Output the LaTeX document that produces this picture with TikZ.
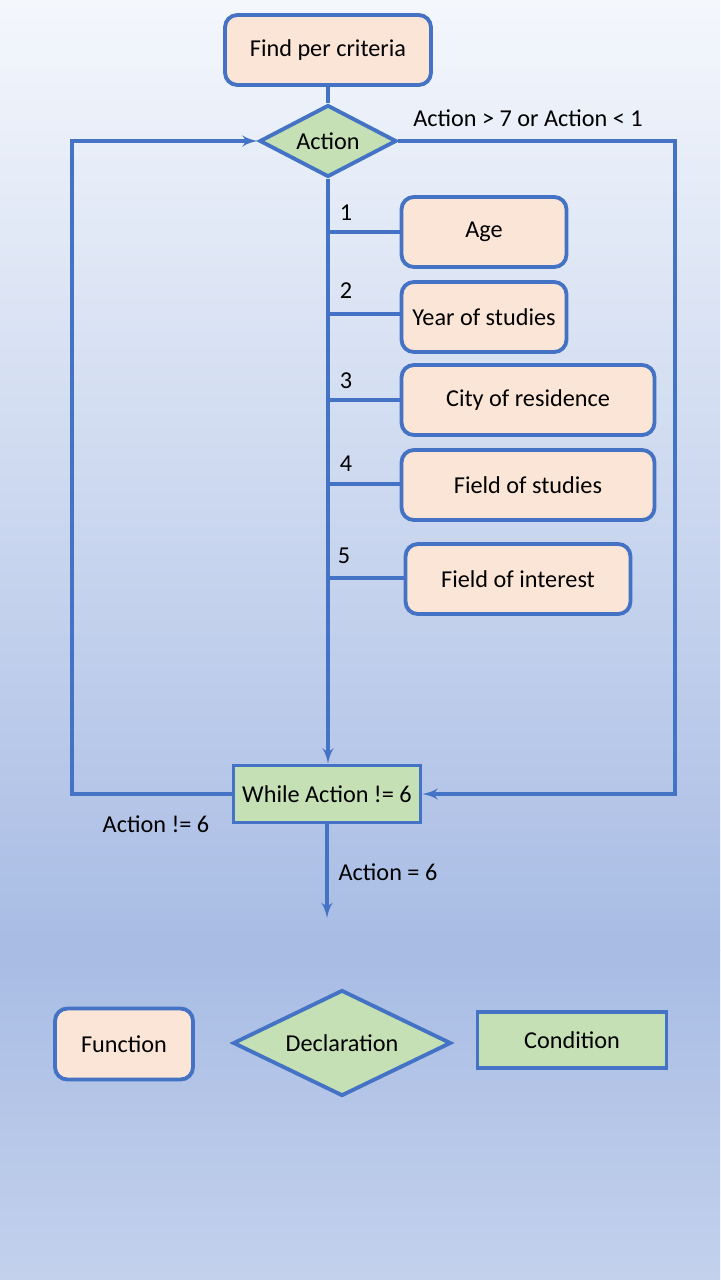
\documentclass[tikz,border=0pt]{standalone}
\usepackage{fontspec}
\setmainfont{Carlito}
\usetikzlibrary{shapes.geometric}
\usetikzlibrary{arrows}
\definecolor{lineblue}{HTML}{4472C4}
\definecolor{peach}{HTML}{FBE5D6}
\definecolor{leaf}{HTML}{C5E0B4}
\definecolor{bgtop}{HTML}{F4F7FC}
\definecolor{bgmid}{HTML}{A8BCE4}
\definecolor{bgbot}{HTML}{C3D1EC}

\begin{document}
\begin{tikzpicture}[x=0.02cm,y=-0.02cm,font=\fontsize{13.8}{16}\selectfont]
\tikzset{func/.style = {shape=rectangle,rounded corners=7pt,draw=lineblue,line width=2.2pt,fill=peach,minimum height=1.4cm,inner sep=2pt}}
\tikzset{decl/.style = {shape=diamond,aspect=2,draw=lineblue,line width=2.2pt,fill=leaf,inner sep=0pt}}
\tikzset{cond/.style = {shape=rectangle,draw=lineblue,line width=2.2pt,fill=leaf,inner sep=2pt}}
\tikzset{edge/.style = {draw=lineblue,line width=2pt,>= latex'}}
% background
\fill[top color=bgtop,bottom color=bgmid] (0,0) rectangle (720,950);
\fill[top color=bgmid,bottom color=bgbot] (0,950) rectangle (720,1280);
\useasboundingbox (0,0) rectangle (720,1280);

% main flow
\node[func,minimum width=4.12cm] (find) at (328,50) {Find per criteria};
\node[decl,minimum width=2.74cm,minimum height=1.44cm] (action) at (328,141) {Action};
\node[cond,minimum width=3.74cm,minimum height=1.14cm] (while) at (327,794) {While Action != 6};

% choices
\node[func,minimum width=3.3cm] (age) at (484,232) {Age};
\node[func,minimum width=3.3cm] (year) at (484,317) {Year of studies};
\node[func,minimum width=5.06cm] (city) at (528,400) {City of residence};
\node[func,minimum width=5.06cm] (fstud) at (528,485) {Field of studies};
\node[func,minimum width=4.5cm] (fint) at (518,579) {Field of interest};

% trunk points
\coordinate (b1) at (328,232);
\coordinate (b2) at (328,314);
\coordinate (b3) at (328,400);
\coordinate (b4) at (328,484);
\coordinate (b5) at (328,578);
\coordinate (lc) at (72,794);
\coordinate (rc) at (675,794);
\coordinate (out) at (327,918);

% edges
\draw[edge] (find) -- (action);
\draw[edge,->] (action.south) -- (while.north -| action.south);
\draw[edge] (b1) -- (b1 -| age.west);
\draw[edge] (b2) -- (b2 -| year.west);
\draw[edge] (b3) -- (b3 -| city.west);
\draw[edge] (b4) -- (b4 -| fstud.west);
\draw[edge] (b5) -- (b5 -| fint.west);
\draw[edge,->] (while.west) -- (lc) |- (action.west);
\draw[edge,->] (action.east) -| (rc) -- (while.east);
\draw[edge,->] (while) -- (out);

% labels
\node (l1) at (346,213) {1};
\node (l2) at (346,291) {2};
\node (l3) at (346,381) {3};
\node (l4) at (346,464) {4};
\node (l5) at (344,556) {5};
\node (over) at (528,118) {Action > 7 or Action < 1};
\node (ne) at (156,824) {Action != 6};
\node (eq) at (388,872) {Action = 6};

% legend
\node[func,minimum width=2.76cm,minimum height=1.42cm] (lfunc) at (124,1044) {Function};
\node[decl,minimum width=4.36cm,minimum height=2.12cm] (ldecl) at (342,1043) {Declaration};
\node[cond,minimum width=3.78cm,minimum height=1.12cm] (lcond) at (572,1040) {Condition};

\end{tikzpicture}
\end{document}
